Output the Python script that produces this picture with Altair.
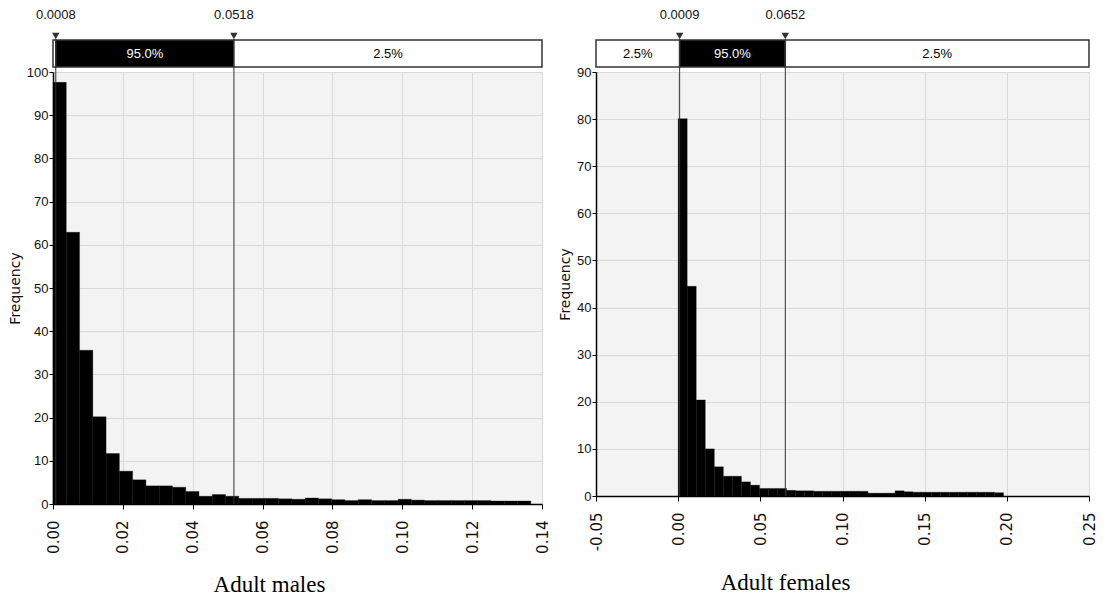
import altair as alt
import pandas as pd

# ---------------- data ----------------
# Adult males
male_bin_width = 0.0038
male_counts = [97.6, 62.9, 35.6, 20.2, 11.7, 7.6, 5.6, 4.2, 4.2, 3.9, 2.9, 1.8, 2.2, 1.8,
               1.3, 1.3, 1.3, 1.2, 1.1, 1.4, 1.2, 1.0, 0.8, 1.0, 0.8, 0.8, 1.1, 0.9,
               0.8, 0.8, 0.8, 0.8, 0.8, 0.7, 0.7, 0.7]
male_markers = [0.0008, 0.0518]
male_marker_labels = ["0.0008", "0.0518"]
male_segments = [0.0, 0.0008, 0.0518, 0.14]
male_segment_labels = ["", "95.0%", "2.5%"]
male_segment_fill = ["white", "black", "white"]
male_x_ticks = [0.00, 0.02, 0.04, 0.06, 0.08, 0.10, 0.12, 0.14]
male_y_ticks = [0, 10, 20, 30, 40, 50, 60, 70, 80, 90, 100]

# Adult females
female_bin_width = 0.0055
female_counts = [80.1, 44.5, 20.4, 10.0, 6.2, 4.2, 4.2, 3.0, 2.3, 1.6, 1.6, 1.6,
                 1.2, 1.1, 1.1, 1.0, 1.0, 1.0, 1.0, 1.0, 1.0, 0.6, 0.6, 0.6,
                 1.1, 0.9, 0.8, 0.8, 0.8, 0.8, 0.8, 0.8, 0.8, 0.8, 0.8, 0.7]
female_markers = [0.0009, 0.0652]
female_marker_labels = ["0.0009", "0.0652"]
female_segments = [-0.05, 0.0009, 0.0652, 0.25]
female_segment_labels = ["2.5%", "95.0%", "2.5%"]
female_segment_fill = ["white", "black", "white"]
female_x_ticks = [-0.05, 0.00, 0.05, 0.10, 0.15, 0.20, 0.25]
female_y_ticks = [0, 10, 20, 30, 40, 50, 60, 70, 80, 90]

NARROW = "Liberation Sans, Arial, sans-serif"
WIDE = "DejaVu Sans, Verdana, sans-serif"
SERIF = "Liberation Serif, Times New Roman, serif"


def panel(counts, bw, markers, marker_labels, segs, seg_labels, seg_fill,
          xticks, yticks, width, height, caption, cap_dx):
    bars = pd.DataFrame({
        "start": [i * bw for i in range(len(counts))],
        "end": [(i + 1) * bw for i in range(len(counts))],
        "count": counts,
        "base": [0] * len(counts),
    })
    seg = pd.DataFrame({
        "a": segs[:-1], "b": segs[1:],
        "mid": [(segs[i] + segs[i + 1]) / 2 for i in range(len(segs) - 1)],
        "label": seg_labels, "fill": seg_fill,
        "tcolor": ["white" if f == "black" else "black" for f in seg_fill],
    })
    mk = pd.DataFrame({"v": markers, "label": marker_labels})

    xs = alt.Scale(domain=[xticks[0], xticks[-1]], nice=False, zero=False)
    ys = alt.Scale(domain=[yticks[0], yticks[-1]], nice=False)

    xaxis = alt.Axis(values=xticks,
                     labelExpr="datum.value < 0 ? '-' + format(-datum.value, '.2f') : format(datum.value, '.2f')",
                     labelAngle=270, labelFont=WIDE,
                     labelFontSize=15, labelColor="#111", tickSize=5, labelPadding=11,
                     tickColor="black", domainColor="black", domainWidth=1.5,
                     gridColor="#d9d9d9", grid=True, labelFlush=False, title=None)
    yaxis = alt.Axis(values=yticks, labelFont=NARROW, labelFontSize=13, labelColor="#111",
                     tickSize=4, labelPadding=1, tickColor="black", domainColor="black",
                     domainWidth=1.5, gridColor="#d9d9d9", grid=True,
                     title="Frequency", titleFont=WIDE, titleFontSize=14,
                     titleFontWeight="normal", titleColor="#111", titlePadding=4)

    def X(field):
        return alt.X(field, scale=xs, axis=xaxis, title=None)

    hist = alt.Chart(bars).mark_rect(color="black", stroke="black", strokeWidth=0.3).encode(
        x=X("start:Q"),
        x2="end:Q",
        y=alt.Y("count:Q", scale=ys, axis=yaxis),
        y2="base:Q",
    )
    band = alt.Chart(seg).mark_rect(stroke="#333", strokeWidth=1.5).encode(
        x=X("a:Q"),
        x2="b:Q",
        y=alt.value(-32), y2=alt.value(-5),
        fill=alt.Color("fill:N", scale=None),
    )
    band_text = alt.Chart(seg).mark_text(font=NARROW, fontSize=13, baseline="middle").encode(
        x=X("mid:Q"),
        y=alt.value(-18),
        text="label:N",
        color=alt.Color("tcolor:N", scale=None),
    )
    rules = alt.Chart(mk).mark_rule(color="#333", strokeWidth=1).encode(
        x=X("v:Q"),
        y=alt.value(-32), y2=alt.value(height),
    )
    tri = alt.Chart(mk).mark_point(shape="triangle-down", filled=True, size=55,
                                   color="#333", opacity=1).encode(
        x=X("v:Q"),
        y=alt.value(-36),
    )
    mk_text = alt.Chart(mk).mark_text(font=NARROW, fontSize=13, baseline="middle",
                                      color="#111").encode(
        x=X("v:Q"),
        y=alt.value(-57),
        text="label:N",
    )
    return alt.layer(hist, rules, band, band_text, tri, mk_text).properties(
        width=width, height=height,
        title=alt.TitleParams(caption, orient="bottom", font=SERIF, fontSize=23,
                              fontWeight="normal", color="black", dx=cap_dx, offset=21),
    )


left = panel(male_counts, male_bin_width, male_markers, male_marker_labels,
             male_segments, male_segment_labels, male_segment_fill,
             male_x_ticks, male_y_ticks, 489, 432, "Adult males", -28)
right = panel(female_counts, female_bin_width, female_markers, female_marker_labels,
              female_segments, female_segment_labels, female_segment_fill,
              female_x_ticks, female_y_ticks, 493, 424, "Adult females", -57)

chart = alt.hconcat(left, right, spacing=54, bounds="flush").properties(
    padding={"left": 0, "top": 1, "right": 0, "bottom": 0},
    background="white",
).configure_view(fill="#f3f3f3", strokeWidth=0)

chart.save("out.html", embed_options={"renderer": "svg", "actions": False})
